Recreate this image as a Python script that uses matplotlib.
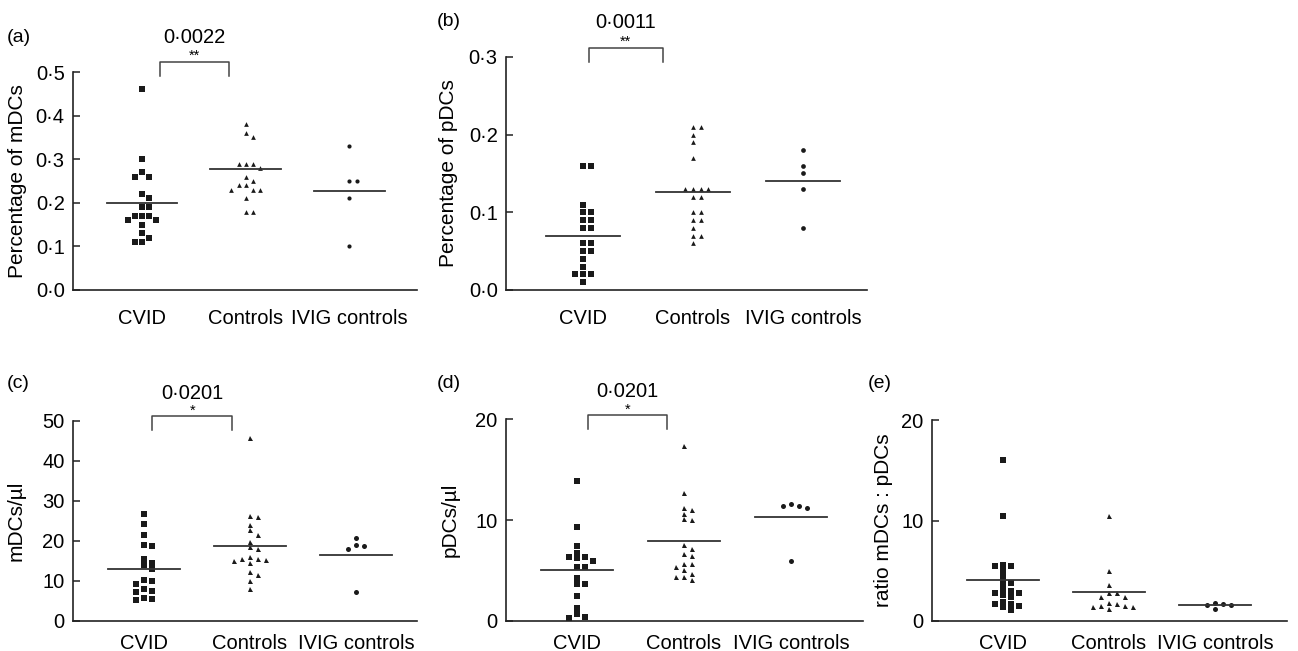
import numpy as np
import matplotlib
matplotlib.use('Agg')
import matplotlib.pyplot as plt
from matplotlib.ticker import FuncFormatter, FixedLocator
from matplotlib.transforms import blended_transform_factory

plt.rcParams['font.family'] = ['Liberation Sans', 'DejaVu Sans']

W, H = 1298, 651

groups = ['CVID', 'Controls', 'IVIG controls']
markers = ['s', '^', 'o']

# (a) percentage of mDCs
mdc_pct_cvid = [0.46, 0.30, 0.27, 0.26, 0.26, 0.22, 0.21, 0.19, 0.19, 0.17,
                0.17, 0.17, 0.16, 0.16, 0.15, 0.13, 0.12, 0.11, 0.11]
mdc_pct_ctrl = [0.38, 0.36, 0.35, 0.29, 0.29, 0.29, 0.28, 0.26, 0.25, 0.24,
                0.24, 0.23, 0.23, 0.23, 0.21, 0.18, 0.18]
mdc_pct_ivig = [0.33, 0.25, 0.25, 0.21, 0.10]
mdc_pct_means = [0.200, 0.278, 0.228]

# (b) percentage of pDCs
pdc_pct_cvid = [0.16, 0.16, 0.11, 0.10, 0.10, 0.09, 0.09, 0.08, 0.08, 0.06,
                0.06, 0.05, 0.05, 0.04, 0.03, 0.02, 0.02, 0.02, 0.01]
pdc_pct_ctrl = [0.21, 0.21, 0.20, 0.19, 0.17, 0.13, 0.13, 0.13, 0.13, 0.12,
                0.12, 0.10, 0.10, 0.09, 0.09, 0.08, 0.07, 0.07, 0.06]
pdc_pct_ivig = [0.18, 0.16, 0.15, 0.13, 0.08]
pdc_pct_means = [0.070, 0.126, 0.140]

# (c) mDCs per microlitre
mdc_ul_cvid = [26.6, 24.1, 21.4, 19.0, 18.7, 15.5, 14.4, 14.0, 12.9, 10.2,
               9.9, 9.2, 7.9, 7.5, 7.2, 5.7, 5.4, 5.2]
mdc_ul_ctrl = [45.7, 26.3, 25.9, 24.0, 22.6, 21.5, 19.8, 18.4, 17.9, 16.0,
               15.6, 15.4, 15.3, 15.1, 14.5, 12.2, 11.4, 10.1, 8.0]
mdc_ul_ivig = [20.6, 19.0, 18.7, 17.9, 7.2]
mdc_ul_means = [13.05, 18.8, 16.6]

# (d) pDCs per microlitre
pdc_ul_cvid = [13.9, 9.3, 7.4, 6.7, 6.3, 6.3, 6.2, 5.9, 5.4, 5.4,
               4.3, 3.7, 3.7, 2.5, 1.3, 0.7, 0.4, 0.3]
pdc_ul_ctrl = [17.4, 12.7, 11.2, 11.0, 10.6, 10.1, 10.0, 7.5, 7.1, 6.6,
               6.4, 5.7, 5.7, 5.4, 5.1, 4.7, 4.4, 4.4, 4.1]
pdc_ul_ivig = [11.6, 11.4, 11.4, 11.2, 5.9]
pdc_ul_means = [5.03, 7.97, 10.3]

# (e) ratio mDCs : pDCs
ratio_cvid = [16.0, 10.4, 5.6, 5.5, 5.5, 5.0, 4.4, 3.8, 3.8, 3.2, 3.0,
              2.8, 2.8, 2.6, 2.4, 1.9, 1.7, 1.7, 1.5, 1.4, 1.1]
ratio_ctrl = [10.4, 5.0, 3.6, 2.75, 2.75, 2.4, 2.4, 1.8, 1.7, 1.5, 1.5,
              1.4, 1.4, 1.2]
ratio_ivig = [1.8, 1.7, 1.6, 1.6, 1.2]
ratio_means = [4.08, 2.85, 1.62]

p_values = ['0·0022', '0·0011', '0·0201', '0·0201']
p_stars = ['**', '**', '*', '*']


def dot_fmt(v, _):
    return f'{v:.1f}'.replace('.', '·')


def int_fmt(v, _):
    return f'{v:.0f}'


def swarm_offsets(ax, values, step_px, gap_px):
    """Prism-like column scatter: spread points that would overlap"""
    vals = np.asarray(values, dtype=float)
    ys = ax.transData.transform(np.column_stack([np.zeros(len(vals)), vals]))[:, 1]
    px_per_unit = ax.transData.transform([[1, 0]])[0, 0] - ax.transData.transform([[0, 0]])[0, 0]
    slots = np.zeros(len(vals))
    placed = []
    for i in np.argsort(-vals, kind='stable'):
        for k in [0, 1, -1, 2, -2, 3, -3, 4, -4]:
            if all(s != k or abs(y - ys[i]) >= gap_px for s, y in placed):
                break
        placed.append((k, ys[i]))
        slots[i] = k
    return slots * step_px / px_per_unit


# panel boxes in pixels: left, right, top(y of max), bottom(y of 0)
panels = [
    dict(tag='(a)', box=(73, 417, 72, 290), ylim=0.5, ticks=[0, 0.1, 0.2, 0.3, 0.4, 0.5],
         fmt=dot_fmt, ylabel='Percentage of mDCs', xcat=(142, 103.7),
         data=[mdc_pct_cvid, mdc_pct_ctrl, mdc_pct_ivig], means=mdc_pct_means,
         msize=[3.7, 3.4, 3.0], step=7.2, gap=4.5, label_xy=(7, 37), ylab_x=27,
         bracket=(0.17, 0.84, 0.523, 0.49, 0.58, 0.537), xpad=14),
    dict(tag='(b)', box=(506, 867, 57, 290), ylim=0.3, ticks=[0, 0.1, 0.2, 0.3],
         fmt=dot_fmt, ylabel='Percentage of pDCs', xcat=(583, 110),
         data=[pdc_pct_cvid, pdc_pct_ctrl, pdc_pct_ivig], means=pdc_pct_means,
         msize=[4.8, 3.4, 3.4], step=7.7, gap=5.5, label_xy=(437, 22), ylab_x=458,
         bracket=(0.05, 0.73, 0.3116, 0.2936, 0.345, 0.320), xpad=14),
    dict(tag='(c)', box=(73, 417, 420.7, 621), ylim=50, ticks=[0, 10, 20, 30, 40, 50],
         fmt=int_fmt, ylabel='mDCs/µl', xcat=(144, 106),
         data=[mdc_ul_cvid, mdc_ul_ctrl, mdc_ul_ivig], means=mdc_ul_means,
         msize=[4.3, 3.6, 3.6], step=7.9, gap=5.0, label_xy=(7, 383), ylab_x=26,
         bracket=(0.08, 0.83, 51.2, 47.8, 56.9, 52.6), xpad=9.5),
    dict(tag='(d)', box=(506, 863, 419.3, 621), ylim=20, ticks=[0, 10, 20],
         fmt=int_fmt, ylabel='pDCs/µl', xcat=(577, 107),
         data=[pdc_ul_cvid, pdc_ul_ctrl, pdc_ul_ivig], means=pdc_ul_means,
         msize=[4.3, 3.6, 3.6], step=7.8, gap=5.0, label_xy=(437, 383), ylab_x=460,
         bracket=(0.10, 0.84, 20.4, 19.0, 22.8, 20.9), xpad=9.5),
    dict(tag='(e)', box=(932, 1287, 420, 621), ylim=20, ticks=[0, 10, 20],
         fmt=int_fmt, ylabel='ratio mDCs : pDCs', xcat=(1003, 106),
         data=[ratio_cvid, ratio_ctrl, ratio_ivig], means=ratio_means,
         msize=[4.3, 3.6, 3.6], step=7.9, gap=5.0, label_xy=(868, 383), ylab_x=893,
         bracket=None, xpad=9.5),
]

fig = plt.figure(figsize=(W / 100, H / 100), dpi=100, facecolor='white')

for i, p in enumerate(panels):
    left, right, top, bottom = p['box']
    ax = fig.add_axes([left / W, 1 - bottom / H, (right - left) / W, (bottom - top) / H])
    x0, dx = p['xcat']
    ax.set_xlim(-(x0 - left) / dx, (right - x0) / dx)
    ax.set_ylim(0, p['ylim'])

    for s in ['top', 'right']:
        ax.spines[s].set_visible(False)
    for s in ['left', 'bottom']:
        ax.spines[s].set_linewidth(1.2)
        ax.spines[s].set_color('#222222')

    ax.yaxis.set_major_locator(FixedLocator(p['ticks']))
    ax.yaxis.set_major_formatter(FuncFormatter(p['fmt']))
    ax.tick_params(axis='y', direction='in', length=5, width=1.1, color='#222222',
                   labelsize=14.5, pad=6)
    ax.set_xticks(range(len(groups)))
    ax.set_xticklabels(groups)
    ax.tick_params(axis='x', length=0, labelsize=14.5, pad=p['xpad'])

    ax.set_ylabel(p['ylabel'], fontsize=15)
    ax.yaxis.set_label_coords(p['ylab_x'] / W, 0.5,
                              transform=blended_transform_factory(fig.transFigure, ax.transAxes))

    for g, vals in enumerate(p['data']):
        offs = swarm_offsets(ax, vals, p['step'], p['gap'])
        ax.plot(g + offs, vals, linestyle='none', marker=markers[g],
                markersize=p['msize'][g], color='#1a1a1a', markeredgewidth=0, clip_on=False)
        ax.plot([g - 0.34, g + 0.34], [p['means'][g]] * 2, color='#333333', lw=1.3)

    if p['bracket'] is not None:
        bx0, bx1, ytop, ybot, ytext, ystar = p['bracket']
        ax.plot([bx0, bx0, bx1, bx1], [ybot, ytop, ytop, ybot], color='#444444',
                lw=1.1, clip_on=False)
        ax.text((bx0 + bx1) / 2, ytext, p_values[i], ha='center', va='center', fontsize=14.5)
        ax.text((bx0 + bx1) / 2, ystar, p_stars[i], ha='center', va='center', fontsize=10.5)

    lx, ly = p['label_xy']
    fig.text(lx / W, 1 - ly / H, p['tag'], ha='left', va='center', fontsize=14)

fig.savefig('out.png', dpi=100, facecolor='white')
